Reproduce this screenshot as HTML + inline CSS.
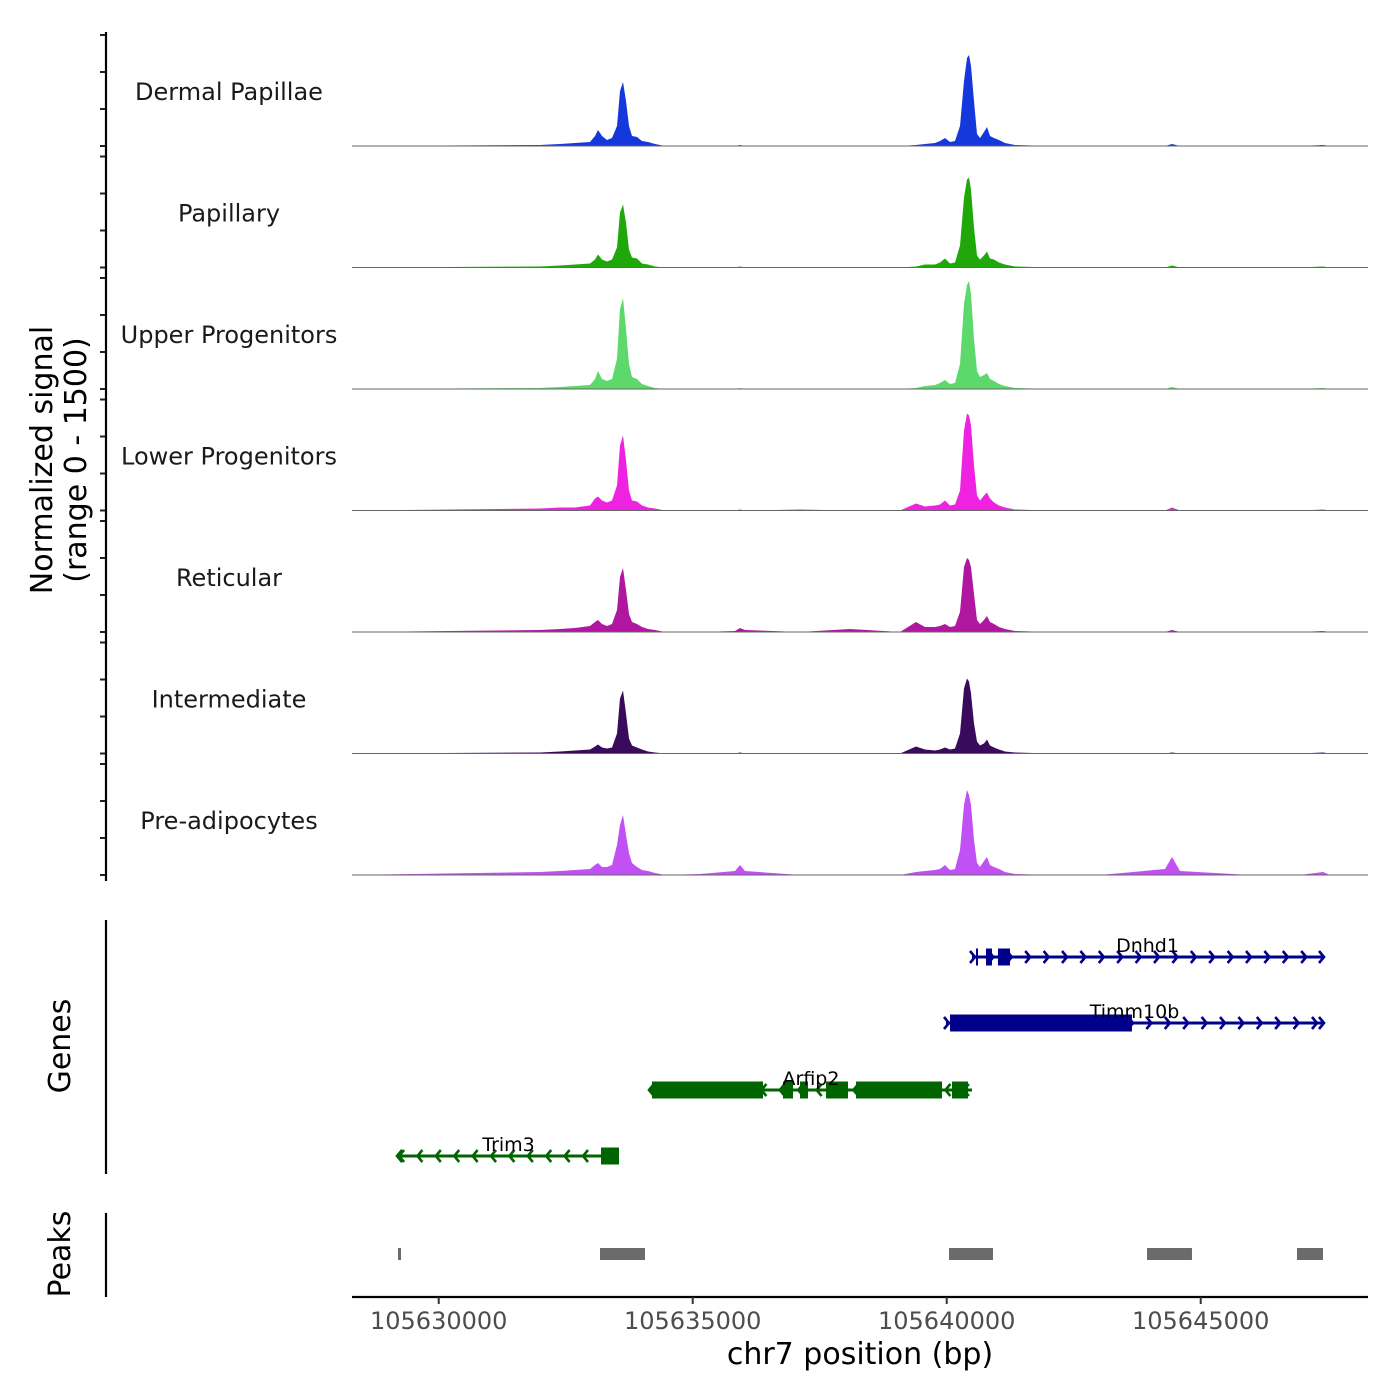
<!DOCTYPE html>
<html><head><meta charset="utf-8"><style>
html,body{margin:0;padding:0;background:#fff}
svg{display:block;font-family:"DejaVu Sans","Liberation Sans",sans-serif}
</style></head><body>
<svg id="chart" width="1400" height="1400" viewBox="0 0 1400 1400" xmlns="http://www.w3.org/2000/svg">
<rect width="1400" height="1400" fill="#fff"/>
<g id="tracks"></g>
<g id="genes"></g>
<g id="peaks"></g>
<g id="axes"></g>
<text transform="translate(52,460) rotate(-90)" text-anchor="middle" font-size="30" fill="#000">Normalized signal</text>
<text transform="translate(86,460) rotate(-90)" text-anchor="middle" font-size="30" fill="#000">(range 0 - 1500)</text>
<text transform="translate(70,1046) rotate(-90)" text-anchor="middle" font-size="30" fill="#000">Genes</text>
<text transform="translate(70,1254) rotate(-90)" text-anchor="middle" font-size="30" fill="#000">Peaks</text>
<text x="860" y="1364" text-anchor="middle" font-size="30" fill="#000">chr7 position (bp)</text>
</svg>
<script>
// ---- data ----
const xDomain = [105628293, 105648293];
const xTicks = [105630000, 105635000, 105640000, 105645000];
const trackNames = ["Dermal Papillae","Papillary","Upper Progenitors","Lower Progenitors","Reticular","Intermediate","Pre-adipocytes"];
const trackColors = ["#1438dc","#20a80a","#5cd96a","#ee22e0","#b0169f","#3a0a5c","#c150f5"];
// genomic positions of signal samples (bp)
const positions = [105628293,105631994,105632387,105632683,105632978,105633077,105633136,105633214,105633313,105633411,105633510,105633569,105633628,105633687,105633746,105633805,105633903,105634002,105634120,105634258,105634454,105635143,105635832,105635931,105636029,105637112,105638096,105639080,105639395,105639573,105639769,105639868,105639966,105640065,105640163,105640261,105640340,105640399,105640439,105640478,105640537,105640596,105640655,105640734,105640793,105640852,105640931,105641029,105641147,105641344,105642033,105643017,105644297,105644435,105644592,105645970,105646954,105647407,105647545,105648293];
// signal values, scale 0..111 (= 0..1500 normalized)
const sigDermal = [0,1,2,3,4,10,16,10,6,8,20,55,64,45,20,10,9,5,4,2,0,0,0,1,0,0,0,0,1,2,3,5,8,4,5,20,65,88,91,80,45,12,8,14,19,10,8,6,3,1,0,0,0,2,0,0,0,1,0,0];
const sigPapillary = [0,1,2,3,4,8,13,8,6,8,20,55,63,45,18,10,9,4,3,1,0,0,0,1,0,0,0,0,1,3,3,5,9,4,5,22,70,88,90,78,40,12,8,12,16,9,8,5,3,1,0,0,0,2,0,0,0,1,0,0];
const sigUpper = [0,1,2,3,4,10,18,10,8,10,30,80,91,60,25,12,10,5,3,1,0,0,0,1,0,0,0,0,1,3,4,6,9,5,6,25,85,104,108,95,50,18,12,14,16,10,8,5,3,1,0,0,0,2,0,0,0,1,0,0];
const sigLower = [0,2,3,3,5,12,14,10,8,10,25,65,75,50,20,10,9,5,3,2,0,0,0,1,0,1,0,0,7,4,5,6,10,5,6,20,80,97,95,85,45,15,10,15,18,12,8,5,3,1,0,0,0,3,0,0,0,1,0,0];
const sigReticular = [0,2,3,4,6,10,12,8,6,8,22,55,64,42,18,10,8,5,3,2,0,0,1,4,2,0,3,0,10,5,5,6,8,5,6,20,65,74,72,65,38,12,8,12,16,10,8,5,3,1,0,0,0,2,0,0,0,1,0,0];
const sigIntermediate = [0,1,2,3,4,7,9,6,5,6,20,55,63,40,15,8,6,4,2,1,0,0,0,1,0,0,0,0,7,4,3,4,6,4,5,20,65,75,72,60,30,12,8,10,14,8,6,4,2,1,0,0,0,1,0,0,0,1,0,0];
const sigPreadipo = [0,3,4,5,6,10,12,8,8,10,30,50,60,40,22,12,8,5,4,2,0,1,4,10,4,0,0,0,3,4,5,6,10,5,6,25,70,85,80,70,35,12,8,14,18,10,8,6,3,1,0,0,6,18,4,0,0,3,0,0];
const signals = [sigDermal,sigPapillary,sigUpper,sigLower,sigReticular,sigIntermediate,sigPreadipo];
// genes
const geneNames = ["Dnhd1","Timm10b","Arfip2","Trim3"];
const geneStarts = [105640498,105639986,105634159,105629199];
const geneEnds = [105647407,105647407,105640498,105633549];
const geneStrands = [1,1,-1,-1];
const geneExons = [
  [[105640576,105640616],[105640773,105640891],[105641009,105641246]],
  [[105640065,105643647]],
  [[105634198,105636384],[105636777,105636974],[105637112,105637269],[105637624,105638057],[105638214,105639907],[105640104,105640419]],
  [[105633195,105633549]]
];
const peakStarts = [105629199,105633175,105640045,105643943,105646895];
const peakEnds = [105629258,105634061,105640911,105644828,105647407];

// ---- scales ----
const NS="http://www.w3.org/2000/svg";
const PX0=352, PX1=1368;
const xs = v => PX0 + (v - xDomain[0])/(xDomain[1]-xDomain[0])*(PX1-PX0);
const baselines = [146,267.5,389,510.5,632,753.5,875];
const trackH = 111, yMax = 111;
const ys = (v,i) => baselines[i] - v/yMax*trackH;
function mk(tag, attrs, parent){const e=document.createElementNS(NS,tag);for(const k in attrs)e.setAttribute(k,attrs[k]);parent.appendChild(e);return e;}

const tracks=document.getElementById('tracks');
const axes=document.getElementById('axes');
signals.forEach((s,i)=>{
  let d=`M${xs(positions[0])},${baselines[i]}`;
  s.forEach((v,j)=>{d+=`L${xs(positions[j]).toFixed(1)},${ys(v,i).toFixed(1)}`;});
  d+=`L${xs(positions[positions.length-1])},${baselines[i]}Z`;
  const p=mk('path',{d:d,fill:trackColors[i]},tracks);
  
  
  const bl=mk('line',{x1:PX0,x2:PX1,y1:baselines[i],y2:baselines[i],stroke:'#666','stroke-width':1},tracks);
  
  
  const t=mk('text',{x:229,y:baselines[i]-46,'text-anchor':'middle','font-size':24,fill:'#1a1a1a'},tracks);
  t.textContent=trackNames[i];
  
  
  for(let k=0;k<4;k++){
    const ty=baselines[i]-k*37;
    const tk=mk('line',{x1:100,x2:106,y1:ty,y2:ty,stroke:'#222','stroke-width':2},axes);
    
    
  }
});
const yl=mk('line',{x1:106,x2:106,y1:32,y2:881,stroke:'#000','stroke-width':2.2},axes);


const gl=mk('line',{x1:106,x2:106,y1:920,y2:1174,stroke:'#000','stroke-width':2.2},axes);


const pl=mk('line',{x1:106,x2:106,y1:1213,y2:1297,stroke:'#000','stroke-width':2.2},axes);


const xl=mk('line',{x1:PX0,x2:PX1,y1:1297,y2:1297,stroke:'#000','stroke-width':2.2},axes);


xTicks.forEach(v=>{
  const tk=mk('line',{x1:xs(v),x2:xs(v),y1:1297,y2:1304,stroke:'#333','stroke-width':2},axes);
  
  
  const t=mk('text',{x:xs(v),y:1329,'text-anchor':'middle','font-size':24,fill:'#4d4d4d'},axes);
  t.textContent=v;
  
  
});

// genes
const genes=document.getElementById('genes');
const geneRows=[957,1023,1090,1156];
const geneColors=["#00008b","#00008b","#006400","#006400"];
geneNames.forEach((n,i)=>{
  const y=geneRows[i], c=geneColors[i];
  const g=mk('g',{},genes);
  
  
  const x0=xs(geneStarts[i]), x1=xs(geneEnds[i]);
  mk('line',{x1:x0,x2:x1,y1:y,y2:y,stroke:c,'stroke-width':3},g);
  const step=18.4, dir=geneStrands[i];
  let arrows='';
  for(let x=x0+2;x<=x1+0.5;x+=step){
    arrows+= dir>0 ? `M${x-4},${y-6}L${x+1},${y}L${x-4},${y+6}` : `M${x+4},${y-6}L${x-1},${y}L${x+4},${y+6}`;
  }
  const ar = dir>0 ? x1 : x0;
  arrows+= dir>0 ? `M${ar-4},${y-6}L${ar+1},${y}L${ar-4},${y+6}` : `M${ar+4},${y-6}L${ar-1},${y}L${ar+4},${y+6}`;
  mk('path',{d:arrows,fill:'none',stroke:c,'stroke-width':2.6},g);
  geneExons[i].forEach(e=>{
    mk('rect',{x:xs(e[0]),y:y-8.5,width:Math.max(2,xs(e[1])-xs(e[0])),height:17,fill:c},g);
  });
  const t=mk('text',{x:(x0+x1)/2,y:y-5,'text-anchor':'middle','font-size':19,fill:'#000'},g);
  t.textContent=n;
  
  
});

// peaks
const peaks=document.getElementById('peaks');
peakStarts.forEach((s,i)=>{
  const r=mk('rect',{x:xs(s),y:1248,width:Math.max(3,xs(peakEnds[i])-xs(s)),height:12,fill:'#6b6b6b'},peaks);
  
  
});
</script>
</body></html>
